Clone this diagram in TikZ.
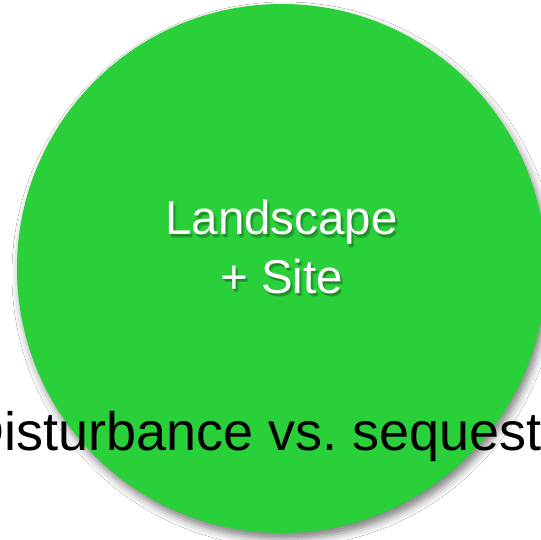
\documentclass[tikz,border=0pt]{standalone}
\usepackage{fontspec}
\setmainfont{Liberation Sans}
\usepackage{tikz}
\usetikzlibrary{shadows.blur}

\definecolor{leafgreen}{RGB}{42,208,57}

\tikzset{
    whitelabel/.style={text=white, inner sep=0pt, anchor=base,
        font=\fontsize{47.5}{57}\selectfont},
    labelshadow/.style={text=black, text opacity=0.12, inner sep=0pt, anchor=base,
        font=\fontsize{47.5}{57}\selectfont},
}

\begin{document}
\frenchspacing
\begin{tikzpicture}[x=1pt, y=-1pt]
    	
    	\clip (0,0) rectangle (541,540);
    	\fill[white] (0,0) rectangle (541,540);
    	
    	\node[shape=circle, fill=leafgreen, minimum size=529pt, inner sep=0pt,
    	      blur shadow={shadow xshift=3pt, shadow yshift=-6pt,
    	                   shadow blur radius=8pt, shadow opacity=50}]
    	      (site circle) at (281.5, 268.5) {};
    	
    	% soft shadow under the white text
    	\foreach \dx/\dy in {1/2, 2/4, 3/3} {
    	    \node[labelshadow] at (281.5+\dx, 235+\dy) {Landscape};
    	    \node[labelshadow] at (281.5+\dx, 293+\dy) {+ Site};
    	}
    	\node[whitelabel] (land) at (281.5, 235) {Landscape};
    	\node[whitelabel] (site) at (281.5, 293) {+ Site};
    	
    	\node[anchor=base west, inner sep=0pt, font=\fontsize{54}{60}\selectfont]
    	      (balance) at (-34.6, 450) {Disturbance vs. sequest};
    	
\end{tikzpicture}
\end{document}
